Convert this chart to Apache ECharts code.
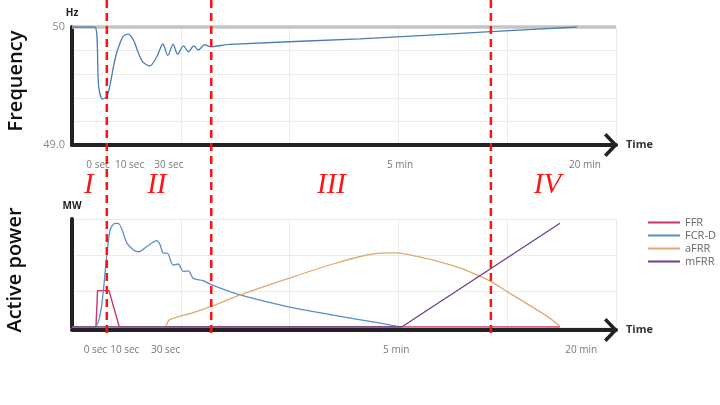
<!doctype html>
<html>
<head>
<meta charset="utf-8">
<script src="https://cdn.jsdelivr.net/npm/echarts@6/dist/echarts.min.js"></script>
<style>
  html, body { margin: 0; padding: 0; background: #fff; }
  #main { width: 720px; height: 405px; }
</style>
</head>
<body>
<div id="main"></div>
<script>
    // time axis is schematic: 0..100 = left..right of the plot
    var topTickPos = [4.8, 10.6, 17.8, 60.3, 94.3];
    var bottomTickPos = [4.3, 9.7, 17.2, 59.6, 93.6];
    var tickText = ['0 sec', '10 sec', '30 sec', '5 min', '20 min'];

    var freqTickVals = [49, 50];
    var freqTickText = ['49.0', '50'];

    // frequency (Hz)
    var freqX = [0, 4.2, 4.9, 5.6, 6.4, 7.0, 7.6, 8.2, 8.8, 9.4, 10.3, 11.3, 12.2, 13.1, 14.3, 15.6, 16.7, 17.6, 18.6, 19.4, 20.5, 21.4, 22.4, 23.2, 24.4, 25.4, 29.0, 52.9, 77.0, 92.8];
    var freqY = [50, 50, 49.5, 49.39, 49.41, 49.51, 49.66, 49.78, 49.86, 49.92, 49.94, 49.89, 49.78, 49.70, 49.67, 49.75, 49.856, 49.76, 49.853, 49.77, 49.84, 49.79, 49.84, 49.805, 49.85, 49.833, 49.853, 49.9, 49.96, 50.0];

    // active power (MW, schematic)
    var ffrX = [0, 4.4, 4.7, 6.8, 8.7, 89.7];
    var ffrY = [0, 0, 1.01, 1.01, 0, 0];

    var fcrX = [0, 4.1, 7.0, 7.9, 8.5, 10.1, 11.3, 12.2, 13.7, 15.6, 16.2, 16.8, 17.5, 18.6, 19.5, 20.5, 21.4, 22.3, 24.1, 25.7, 30.9, 39.8, 48.0, 54.2, 59.1, 60.3];
    var fcrY = [0, 0, 2.69, 2.88, 2.88, 2.33, 2.14, 2.09, 2.23, 2.40, 2.28, 2.05, 2.05, 1.72, 1.75, 1.54, 1.56, 1.35, 1.29, 1.17, 0.89, 0.56, 0.33, 0.17, 0.04, 0];

    var afrrX = [0, 17.0, 17.8, 19.2, 22.3, 25.6, 30.9, 39.8, 48.0, 54.2, 57.8, 59.7, 63.4, 67.6, 71.3, 74.1, 76.8, 80.1, 83.6, 87.0, 89.7];
    var afrrY = [0, 0, 0.19, 0.27, 0.40, 0.57, 0.89, 1.35, 1.75, 2.0, 2.06, 2.06, 1.96, 1.81, 1.64, 1.47, 1.28, 0.97, 0.65, 0.33, 0.03];

    var mfrrX = [0, 60.6, 89.7];
    var mfrrY = [0, 0, 2.88];

    var seriesNames = ['FFR', 'FCR-D', 'aFRR', 'mFRR'];
    var seriesColors = ['#c8346b', '#5b8ec6', '#dcab72', '#6e3e8c'];

    // phase boundaries and numerals
    var phaseLines = [6.4, 25.6, 77.0];
    var phaseLabelPos = [3.1, 15.6, 47.7, 87.4];
    var phaseLabels = ['I', 'II', 'III', 'IV'];

    function pairs(xs, ys) {
        return xs.map(function (x, i) { return [x, ys[i]]; });
    }

    var arrow = 'path://M0,11.5 L12,0 L24,11.5 L21.5,14 L12,5 L2.5,14 Z';

    function timeAxis(grid, ticks, offset) {
        return {
            type: 'value', gridIndex: grid, min: 0, max: 100, interval: 20,
            offset: offset,
            axisLine: {
                show: true, onZero: false,
                lineStyle: { color: '#222', width: 4 },
                symbol: ['none', arrow], symbolSize: [24, 14], symbolOffset: [0, -5]
            },
            axisTick: { show: false },
            axisLabel: {
                customValues: ticks,
                formatter: function (v) {
                    var i = ticks.indexOf(v);
                    return i >= 0 ? tickText[i] : '';
                },
                color: '#777', fontSize: 10, margin: 15
            },
            splitLine: { show: true, lineStyle: { color: '#ececec', width: 1 } },
            name: 'Time', nameGap: 10,
            nameTextStyle: { fontWeight: 'bold', fontSize: 11, color: '#333' }
        };
    }

    var chart = echarts.init(document.getElementById('main'));

    var option = {
        animation: false,
        backgroundColor: '#fff',
        textStyle: { fontFamily: 'Open Sans' },
        grid: [
            { left: 72, width: 544, top: 27, height: 118 },
            { left: 72, width: 544, top: 219, height: 108 }
        ],
        xAxis: [timeAxis(0, topTickPos, 0), timeAxis(1, bottomTickPos, 3)],
        yAxis: [
            {
                type: 'value', gridIndex: 0, min: 49, max: 50, interval: 0.2,
                axisLine: { show: true, lineStyle: { color: '#222', width: 4 } },
                axisTick: { show: false },
                axisLabel: {
                    color: '#888', fontSize: 11, margin: 7,
                    formatter: function (v) {
                        for (var i = 0; i < freqTickVals.length; i++) {
                            if (Math.abs(v - freqTickVals[i]) < 1e-6) return freqTickText[i];
                        }
                        return '';
                    }
                },
                splitLine: { show: true, lineStyle: { color: '#ececec' } },
                name: 'Hz', nameGap: 9,
                nameTextStyle: { fontWeight: 'bold', fontSize: 10, color: '#222' }
            },
            {
                type: 'value', gridIndex: 1, min: 0, max: 3, interval: 1,
                axisLine: { show: true, lineStyle: { color: '#222', width: 4 } },
                axisTick: { show: false },
                axisLabel: { show: false },
                splitLine: { show: true, lineStyle: { color: '#ececec' } },
                name: 'MW', nameGap: 8,
                nameTextStyle: { fontWeight: 'bold', fontSize: 10, color: '#222' }
            }
        ],
        legend: {
            data: seriesNames,
            orient: 'vertical',
            left: 643, top: 211,
            icon: 'rect', itemWidth: 32, itemHeight: 2, itemGap: 0,
            textStyle: { color: '#666', fontSize: 11, lineHeight: 13 }
        },
        series: [
            {
                name: 'Frequency', type: 'line', xAxisIndex: 0, yAxisIndex: 0,
                data: pairs(freqX, freqY),
                smooth: 0.3, showSymbol: false,
                lineStyle: { color: '#4a7db3', width: 1.3 },
                markLine: {
                    z: 1, silent: true, symbol: ['none', 'none'],
                    label: { show: false },
                    lineStyle: { color: '#c4c4c4', width: 3.5, type: 'solid' },
                    data: [{ yAxis: 50 }]
                }
            },
            {
                name: seriesNames[0], type: 'line', xAxisIndex: 1, yAxisIndex: 1,
                data: pairs(ffrX, ffrY), showSymbol: false,
                color: seriesColors[0], lineStyle: { width: 1.4 }
            },
            {
                name: seriesNames[1], type: 'line', xAxisIndex: 1, yAxisIndex: 1,
                data: pairs(fcrX, fcrY), showSymbol: false,
                smooth: 0.3,
                color: seriesColors[1], lineStyle: { width: 1.3 }
            },
            {
                name: seriesNames[2], type: 'line', xAxisIndex: 1, yAxisIndex: 1,
                data: pairs(afrrX, afrrY), showSymbol: false,
                smooth: 0.3,
                color: seriesColors[2], lineStyle: { width: 1.3 }
            },
            {
                name: seriesNames[3], type: 'line', xAxisIndex: 1, yAxisIndex: 1,
                data: pairs(mfrrX, mfrrY), showSymbol: false,
                color: seriesColors[3], lineStyle: { width: 1.3 }
            }
        ]
    };

    chart.setOption(option);

    // side titles, phase boundaries and numerals
    var graphics = [
        {
            type: 'text', x: 16, y: 81, rotation: Math.PI / 2, z: 50,
            style: { text: 'Frequency', font: '600 20px "Open Sans"', fill: '#111', align: 'center', verticalAlign: 'middle' }
        },
        {
            type: 'text', x: 15, y: 270, rotation: Math.PI / 2, z: 50,
            style: { text: 'Active power', font: '600 20px "Open Sans"', fill: '#111', align: 'center', verticalAlign: 'middle' }
        }
    ];
    phaseLines.forEach(function (u) {
        var x = chart.convertToPixel({ xAxisIndex: 0 }, u);
        graphics.push({
            type: 'line', z: 100,
            shape: { x1: x, y1: 0, x2: x, y2: 334 },
            style: { stroke: '#ff1212', lineWidth: 2.5, lineDash: [8, 5] }
        });
    });
    phaseLabelPos.forEach(function (u, i) {
        var x = chart.convertToPixel({ xAxisIndex: 0 }, u);
        graphics.push({
            type: 'text', x: x, y: 185, z: 100,
            style: { text: phaseLabels[i], font: 'italic 29px "Liberation Serif"', fill: '#ff1212', align: 'center', verticalAlign: 'middle' }
        });
    });
    chart.setOption({ graphic: graphics });
</script>
</body>
</html>
